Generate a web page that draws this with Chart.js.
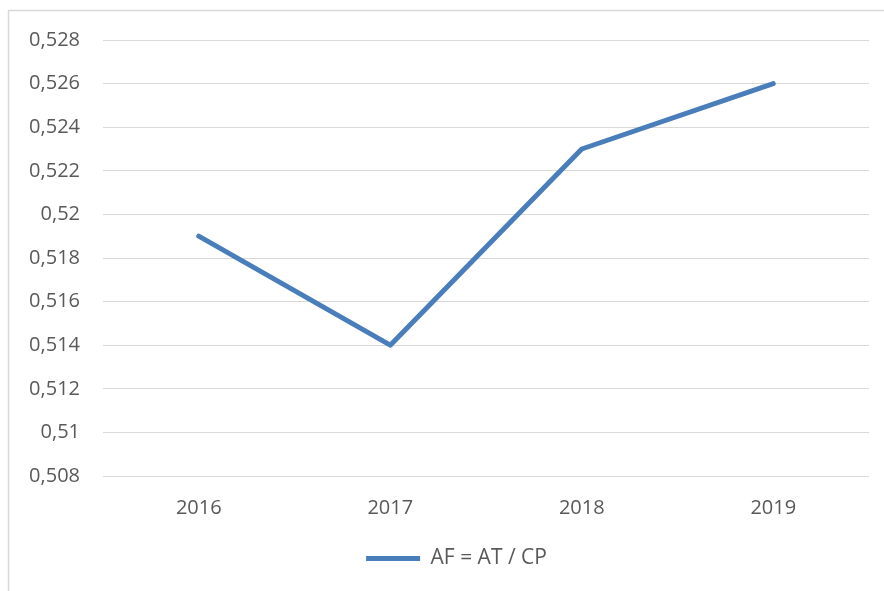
<!DOCTYPE html>
<html>
<head>
<meta charset="utf-8">
<script src="https://cdn.jsdelivr.net/npm/chart.js@4/dist/chart.umd.min.js"></script>
<style>
  html, body { margin: 0; padding: 0; background: #fff; }
  #wrap { width: 884px; height: 591px; position: relative; }
</style>
</head>
<body>
<div id="wrap"><canvas id="c" width="884" height="591"></canvas></div>
<script>
const categories = ["2016", "2017", "2018", "2019"];
const seriesName = "AF = AT / CP";
const seriesValues = [0.519, 0.514, 0.523, 0.526];
const yMin = 0.508, yMax = 0.528, yStep = 0.002;

const FONT = "'Open Sans', 'Liberation Sans', sans-serif";
const TEXT = "#595959";
const GRID = "#d9d9d9";
const LINE = "#4a7ebb";

const frame = {
  id: 'frame',
  beforeDraw(chart) {
    const ctx = chart.ctx;
    ctx.save();
    ctx.strokeStyle = GRID;
    ctx.lineWidth = 1.5;
    ctx.beginPath();
    ctx.moveTo(8.5, 591);
    ctx.lineTo(8.5, 10.5);
    ctx.lineTo(884, 10.5);
    ctx.stroke();
    ctx.restore();
  },
  afterLayout(chart) {
    const lg = chart.legend;
    if (lg) { lg.left += 18; lg.right += 18; }
  }
};

const fmt = v => String(Number(v.toFixed(3))).replace('.', ',');

new Chart(document.getElementById('c'), {
  type: 'line',
  data: {
    labels: categories,
    datasets: [{
      label: seriesName,
      data: seriesValues,
      borderColor: LINE,
      backgroundColor: LINE,
      borderWidth: 5,
      borderCapStyle: 'round',
      borderJoinStyle: 'round',
      pointRadius: 0,
      pointHoverRadius: 0,
      tension: 0,
      fill: false
    }]
  },
  options: {
    responsive: false,
    animation: false,
    devicePixelRatio: 1,
    layout: { padding: { left: 8, right: 15, top: 40, bottom: 12 } },
    plugins: {
      legend: {
        position: 'bottom',
        labels: {
          usePointStyle: true,
          pointStyle: 'line',
          pointStyleWidth: 54,
          boxHeight: 21,
          color: TEXT,
          font: { family: FONT, size: 21 },
          padding: 10
        }
      },
      tooltip: { enabled: false }
    },
    scales: {
      x: {
        offset: true,
        grid: { display: false, drawTicks: false },
        border: { display: false },
        ticks: { color: TEXT, font: { family: FONT, size: 20 }, padding: 20 },
        afterFit(s) { s.height = 62; }
      },
      y: {
        min: yMin,
        max: yMax,
        grid: { color: GRID, lineWidth: 1, drawTicks: false },
        border: { display: false },
        ticks: {
          stepSize: yStep,
          color: TEXT,
          font: { family: FONT, size: 20 },
          padding: 23,
          callback: v => fmt(v)
        },
        afterFit(s) { s.width = 95; }
      }
    }
  },
  plugins: [frame]
});
</script>
</body>
</html>
